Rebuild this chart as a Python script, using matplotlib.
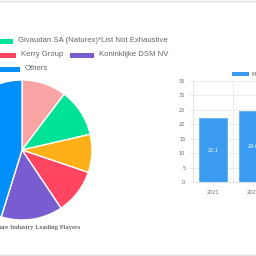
import matplotlib.pyplot as plt
from matplotlib.lines import Line2D
from matplotlib.patches import Rectangle

# pie: leading players share (clockwise from top)
player_names = ['Other A', 'Givaudan SA (Naturex)*List Not Exhaustive', 'Other B',
                'Kerry Group', 'Koninklijke DSM NV', 'Others']
player_share = [10.3, 11.1, 8.8, 10.4, 14.2, 45.2]
player_colors = ['#F9A3A4', '#00E396', '#FEB019', '#FF4560', '#775DD0', '#008FFB']

# bar: market size by year
years = ['2021', '2022']
market_size = [22.1, 24.6]
bar_label = 'Market Size'

W = 256.0
fig = plt.figure(figsize=(2.56, 2.56), dpi=100)
fig.patch.set_facecolor('white')


def px(x, y, w, h):
    # pixel box (top-left origin) -> figure fraction
    return [x / W, (W - y - h) / W, w / W, h / W]


# pie chart
ax = fig.add_axes(px(22 - 70, 150 - 70, 140, 140))
ax.pie(player_share, colors=player_colors, startangle=90, counterclock=False,
       wedgeprops=dict(edgecolor='white', linewidth=1.0))
ax.set_xlim(-1, 1)
ax.set_ylim(-1, 1)
ax.axis('off')

fig.text(80 / W, 1 - 227 / W, 'Agriculture Industry Leading Players', ha='right', va='center',
         fontsize=5.0, family='Liberation Serif', color='#333333')

# legend rows for the pie (row start x in px, row y in px)
legend_rows = [[1], [3, 4], [5]]
row_y = [41, 55, 69]
row_x = [-11, -8, -4]
box_w, gap, box_h = 24, 5, 5
r = fig.canvas.get_renderer()
for idxs, y, x in zip(legend_rows, row_y, row_x):
    for i in idxs:
        fig.add_artist(Rectangle((x / W, 1 - (y + box_h / 2) / W), box_w / W, box_h / W,
                                 transform=fig.transFigure, color=player_colors[i], lw=0))
        t = fig.text((x + box_w + gap) / W, 1 - y / W, player_names[i], fontsize=5.55,
                     family='Liberation Sans', color='#666666', va='center')
        x += box_w + gap + t.get_window_extent(r).width + 7

# bar chart
bx = fig.add_axes(px(193, 81, 80, 101))
bars = bx.bar(range(len(years)), market_size, width=0.72, color='#3A9BF0',
              edgecolor='#5FAEF3', linewidth=0.6, zorder=2)
for b, v in zip(bars, market_size):
    bx.text(b.get_x() + b.get_width() / 2, v / 2, f'{v}', ha='center', va='center',
            fontsize=3.6, color='white', zorder=3)
bx.set_xlim(-0.5, len(years) - 0.5)
bx.set_ylim(0, 35)
bx.set_yticks(range(0, 36, 5))
bx.set_xticks(range(len(years)))
bx.set_xticklabels(years)
bx.set_xticks([0.5], minor=True)
bx.grid(True, which='major', axis='y', color='#E8E8E8', lw=0.6, zorder=0)
bx.grid(True, which='minor', axis='x', color='#E8E8E8', lw=0.6, zorder=0)
bx.tick_params(axis='both', labelsize=3.6, colors='#666666', length=2, width=0.5, color='#DDDDDD')
bx.tick_params(axis='x', which='minor', length=0)
for s in ['top', 'right']:
    bx.spines[s].set_visible(False)
for s in ['left', 'bottom']:
    bx.spines[s].set_color('#DDDDDD')
    bx.spines[s].set_linewidth(0.6)

fig.add_artist(Rectangle((232 / W, 1 - 76 / W), 17 / W, 4 / W, transform=fig.transFigure,
                         color='#3A9BF0', lw=0))
fig.text(252 / W, 1 - 74 / W, bar_label, fontsize=3.6, color='#666666', va='center')

# card borders
fig.add_artist(Line2D([0, 1], [1 - 0.5 / W, 1 - 0.5 / W], transform=fig.transFigure,
                      color='#DDDDDD', lw=1))
fig.add_artist(Line2D([0, 1], [1 - 255 / W, 1 - 255 / W], transform=fig.transFigure,
                      color='#DDDDDD', lw=1))

fig.savefig('out.png', dpi=100)
